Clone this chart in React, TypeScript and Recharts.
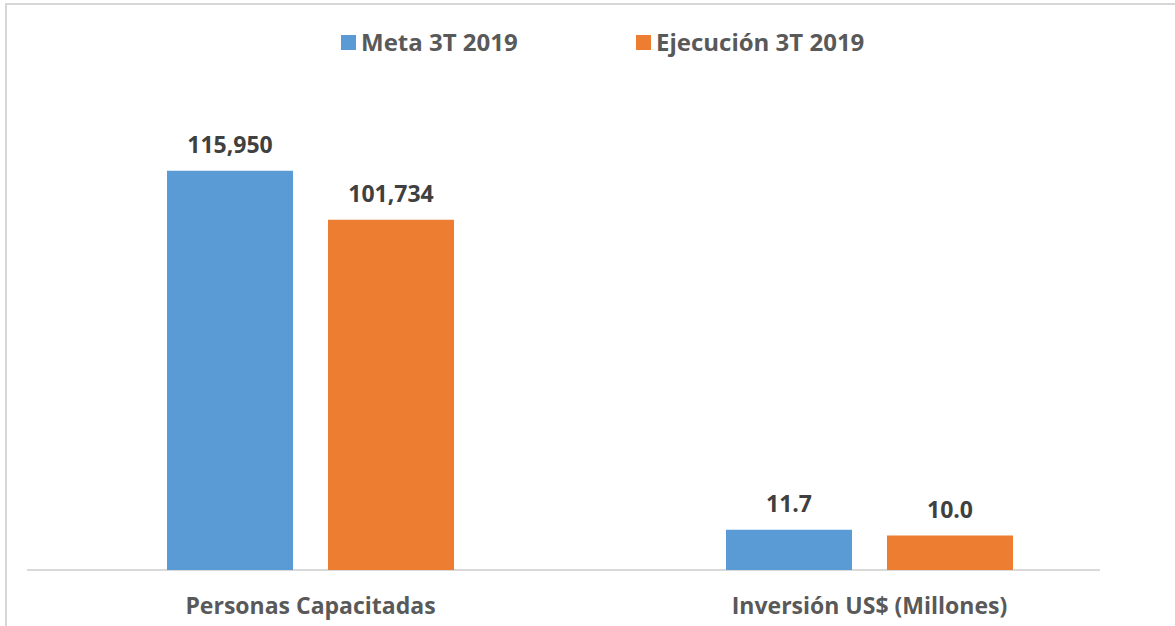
import React from "react";
import { BarChart, Bar, XAxis, YAxis, Legend, LabelList } from "recharts";

const categories = ["Personas Capacitadas", "Inversión US$ (Millones)"];
// Inversión is plotted in thousands of US$ so both groups share one axis
const metaValues = [115950, 11700];
const ejecValues = [101734, 10000];
const metaLabels = ["115,950", "11.7"];
const ejecLabels = ["101,734", "10.0"];
const seriesNames = ["Meta 3T 2019", "Ejecución 3T 2019"];
const colors = ["#5B9BD5", "#ED7D31"];

const data = categories.map((name, i) => ({
  name,
  meta: metaValues[i],
  ejec: ejecValues[i],
  metaLabel: metaLabels[i],
  ejecLabel: ejecLabels[i],
}));

const FONT = "'Open Sans', sans-serif";

const CategoryTick = (props: any) => {
  const { x, y, payload } = props;
  return (
    <text
      x={x}
      y={y + 36}
      textAnchor="middle"
      fill="#595959"
      fontSize={23}
      fontWeight={700}
      fontFamily={FONT}
    >
      {payload.value}
    </text>
  );
};

const LegendContent = () => (
  <div style={{ height: 0, position: "relative" }}>
    {seriesNames.map((n, i) => (
      <div
        key={n}
        style={{
          position: "absolute",
          left: i === 0 ? 341 : 636,
          top: 0,
          display: "flex",
          alignItems: "center",
          fontFamily: FONT,
          fontWeight: 700,
          fontSize: 24,
          lineHeight: "30px",
          color: "#595959",
          whiteSpace: "nowrap",
        }}
      >
        <span
          style={{
            display: "inline-block",
            width: 15,
            height: 15,
            background: colors[i],
            marginRight: 5,
          }}
        />
        {n}
      </div>
    ))}
  </div>
);

export default function App() {
  return (
    <div
      style={{
        position: "absolute",
        left: 0,
        top: 0,
        width: 1175,
        height: 626,
        overflow: "hidden",
        background: "#fff",
      }}
    >
      <div
        style={{
          position: "absolute",
          left: 27,
          top: 569,
          width: 1073,
          height: 2,
          background: "#d9d9d9",
        }}
      />
      <div style={{ position: "absolute", left: 0, top: 0 }}>
        <BarChart
          width={1175}
          height={626}
          data={data}
          margin={{ top: 88, right: 26, bottom: 6, left: 31 }}
          barGap={35}
          barCategoryGap={136}
        >
          <Legend
            verticalAlign="top"
            content={LegendContent}
            wrapperStyle={{ top: 27, left: 0, width: 1175 }}
          />
          <XAxis
            dataKey="name"
            axisLine={false}
            tickLine={false}
            height={50}
            tick={CategoryTick}
            interval={0}
          />
          <YAxis hide domain={[0, 140000]} />
          <Bar dataKey="meta" fill={colors[0]} isAnimationActive={false}>
            <LabelList
              dataKey="metaLabel"
              position="top"
              offset={18}
              fill="#404040"
              fontSize={23}
              fontWeight={700}
              fontFamily={FONT}
            />
          </Bar>
          <Bar dataKey="ejec" fill={colors[1]} isAnimationActive={false}>
            <LabelList
              dataKey="ejecLabel"
              position="top"
              offset={18}
              fill="#404040"
              fontSize={23}
              fontWeight={700}
              fontFamily={FONT}
            />
          </Bar>
        </BarChart>
      </div>
      <div
        style={{
          position: "absolute",
          left: 5,
          top: 3,
          width: 1190,
          height: 640,
          borderLeft: "2px solid #d6d6d6",
          borderTop: "2px solid #d6d6d6",
          zIndex: 10,
          pointerEvents: "none",
        }}
      />
    </div>
  );
}
